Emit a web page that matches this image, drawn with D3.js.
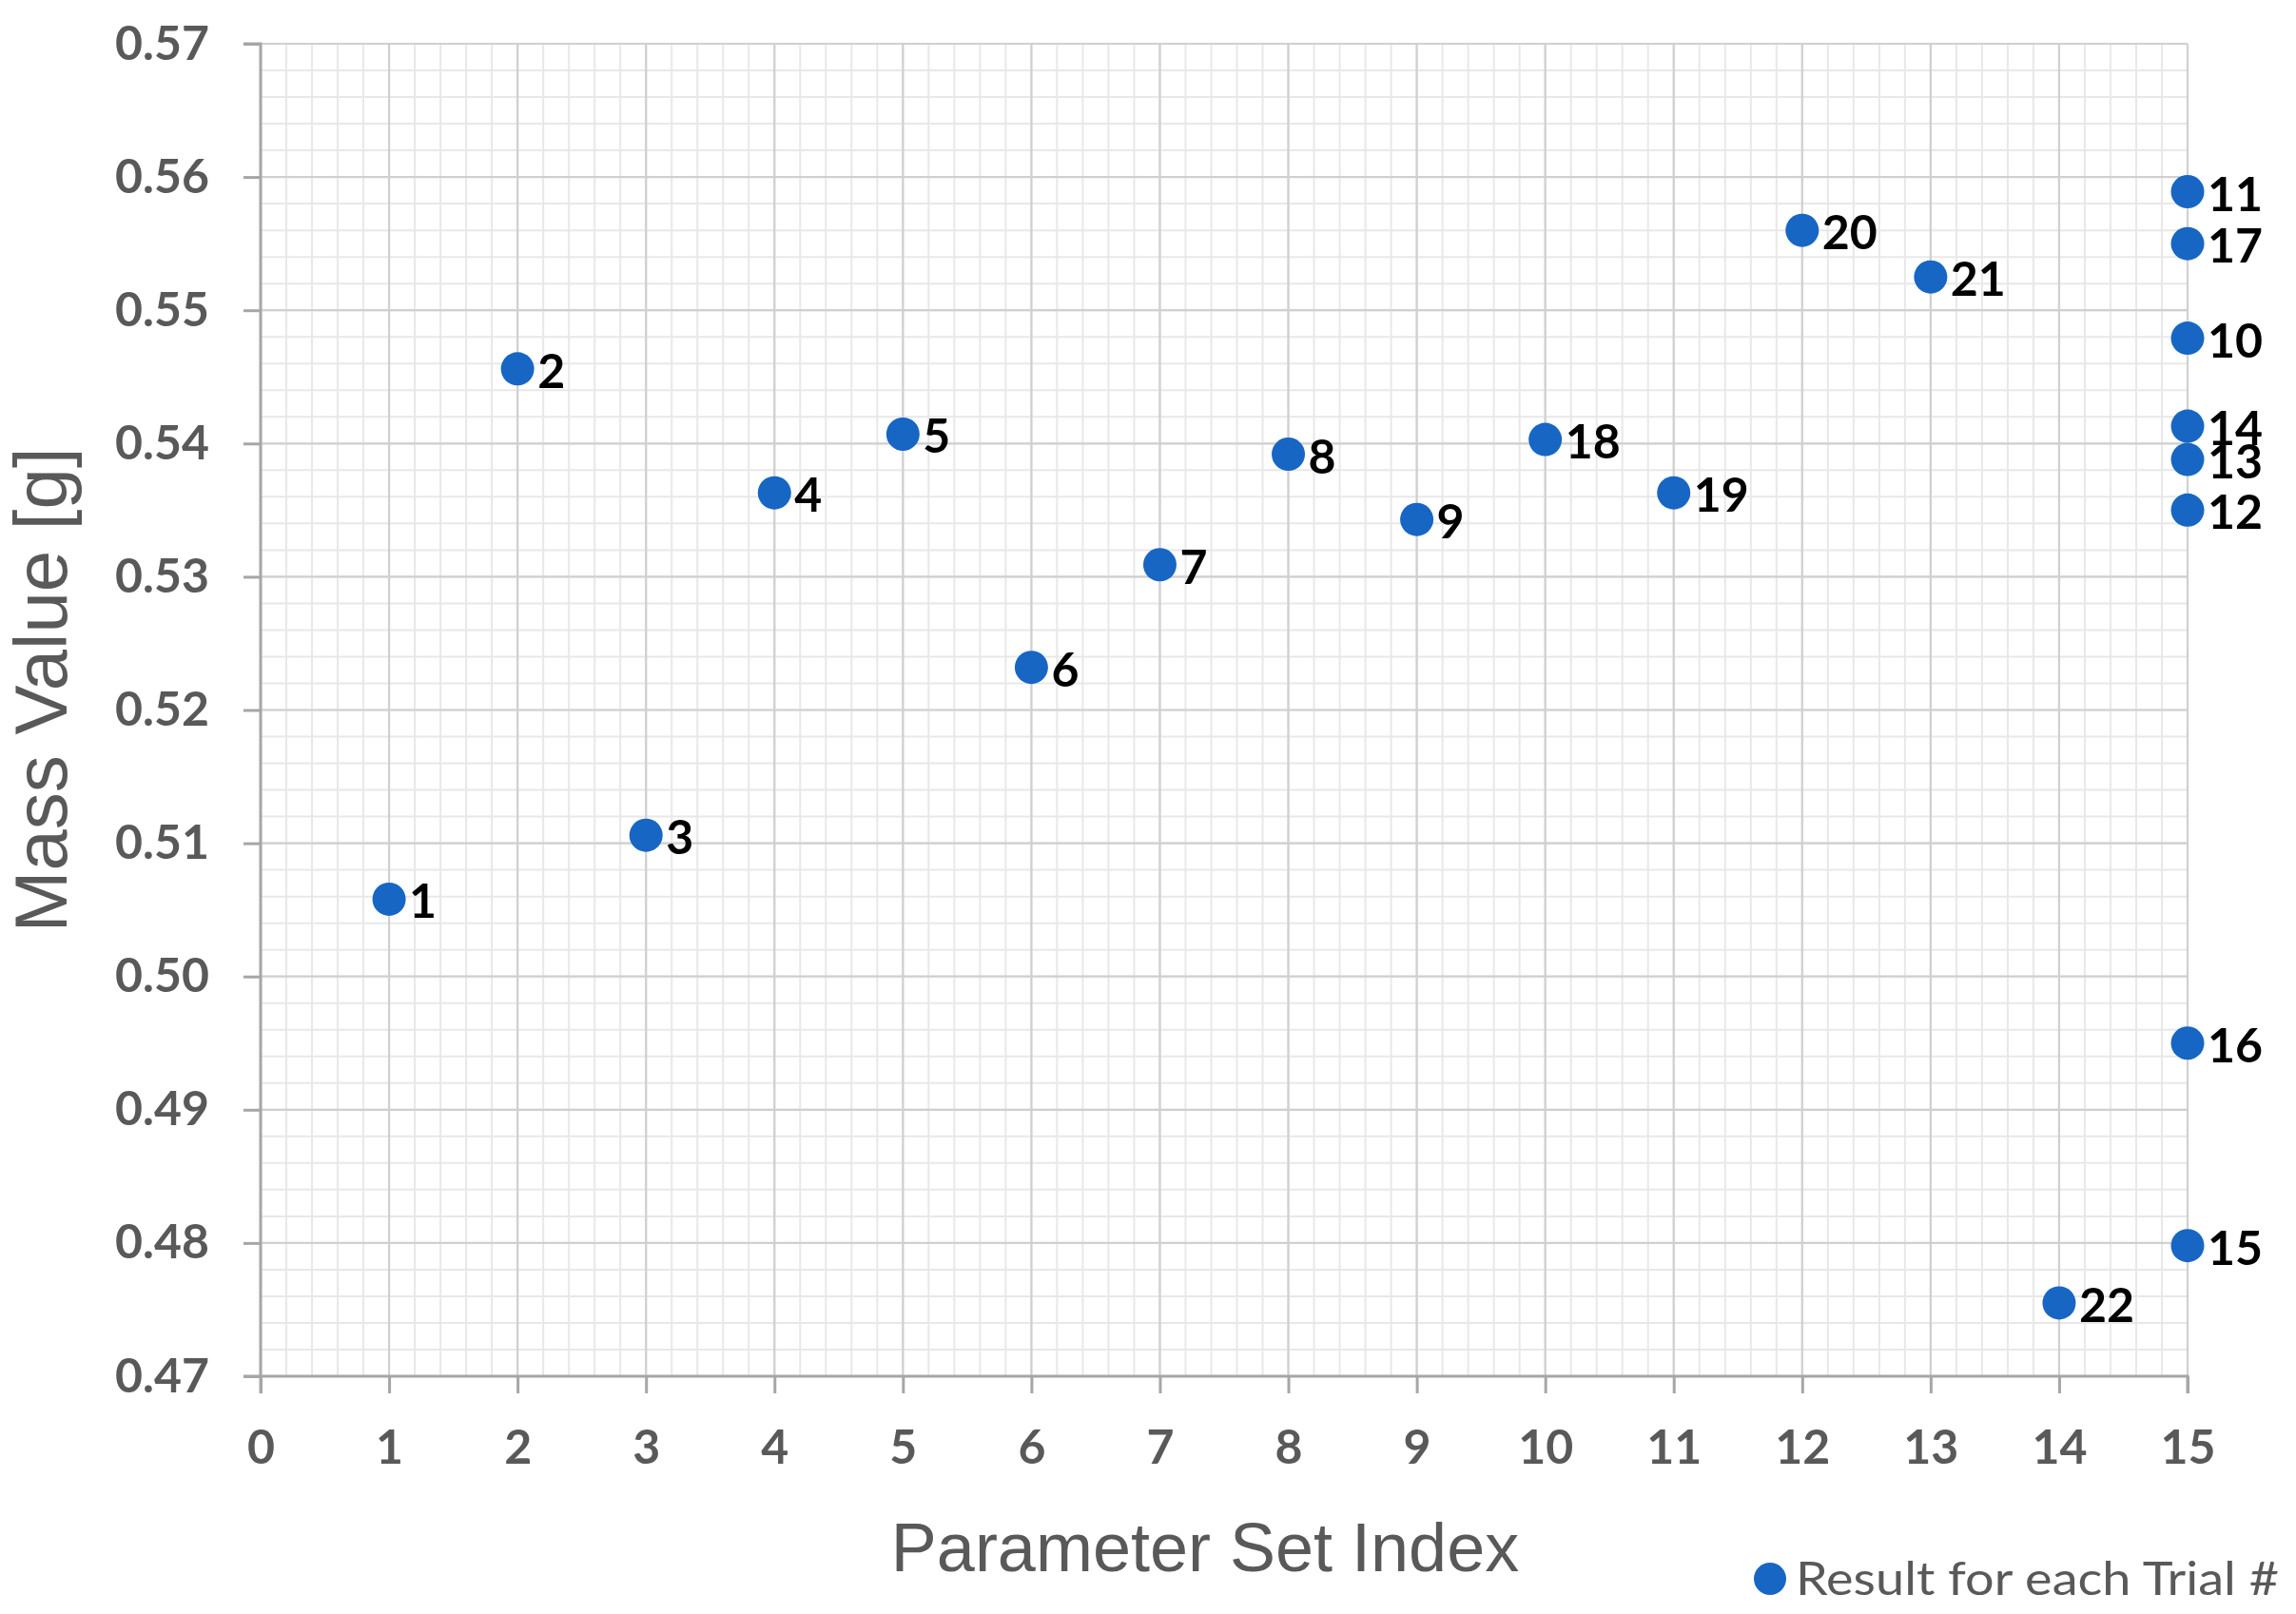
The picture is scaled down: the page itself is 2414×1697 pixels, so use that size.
<!DOCTYPE html>
<html>
<head>
<meta charset="utf-8">
<script src="https://cdn.jsdelivr.net/npm/d3@7"></script>
<style>
  html, body { margin: 0; padding: 0; background: #ffffff; }
  svg { display: block; }
</style>
</head>
<body>
<svg id="chart" width="2414" height="1697"></svg>
<script>
// ---- data ----
const trialNumbers   = [1, 2, 3, 4, 5, 6, 7, 8, 9, 18, 19, 20, 21, 22, 11, 17, 10, 14, 13, 12, 16, 15];
const parameterIndex = [1, 2, 3, 4, 5, 6, 7, 8, 9, 10, 11, 12, 13, 14, 15, 15, 15, 15, 15, 15, 15, 15];
const massValues     = [0.5058, 0.5456, 0.5106, 0.5363, 0.5407, 0.5232, 0.5309, 0.5392, 0.5343, 0.5403, 0.5363,
                        0.5560, 0.5525, 0.4755, 0.5589, 0.5550, 0.5479, 0.5413, 0.5388, 0.5350, 0.4950, 0.4798];
const xTicks = [0, 1, 2, 3, 4, 5, 6, 7, 8, 9, 10, 11, 12, 13, 14, 15];
const yTicks = [0.47, 0.48, 0.49, 0.50, 0.51, 0.52, 0.53, 0.54, 0.55, 0.56, 0.57];
const xTitle = "Parameter Set Index";
const yTitle = "Mass Value [g]";
const legendLabel = "Result for each Trial #";

// ---- layout ----
const svg = d3.select("#chart");
const plot = { left: 274, right: 2300, top: 46, bottom: 1447 };
const x = d3.scaleLinear().domain([0, 15]).range([plot.left, plot.right]);
const y = d3.scaleLinear().domain([0.47, 0.57]).range([plot.bottom, plot.top]);

const pointColor = "#1766c4";
const axisGrey = "#a6a6a6";
const textGrey = "#595959";

svg.append("rect").attr("width", 2414).attr("height", 1697).attr("fill", "#ffffff");

// minor grid
const xMinor = d3.range(0, 15.0001, 0.2);
const yMinor = d3.range(0.47, 0.57001, 0.002);
const grid = svg.append("g");
grid.selectAll("line.xm").data(xMinor).join("line")
  .attr("x1", d => x(d)).attr("x2", d => x(d))
  .attr("y1", plot.top).attr("y2", plot.bottom)
  .attr("stroke", "#e8e8e8").attr("stroke-width", 2);
grid.selectAll("line.ym").data(yMinor).join("line")
  .attr("x1", plot.left).attr("x2", plot.right)
  .attr("y1", d => y(d)).attr("y2", d => y(d))
  .attr("stroke", "#e8e8e8").attr("stroke-width", 2);
// major grid
grid.selectAll("line.xM").data(xTicks).join("line")
  .attr("x1", d => x(d)).attr("x2", d => x(d))
  .attr("y1", plot.top).attr("y2", plot.bottom)
  .attr("stroke", "#d0d0d0").attr("stroke-width", 2.2);
grid.selectAll("line.yM").data(yTicks).join("line")
  .attr("x1", plot.left).attr("x2", plot.right)
  .attr("y1", d => y(d)).attr("y2", d => y(d))
  .attr("stroke", "#d0d0d0").attr("stroke-width", 2.2);

// axes
const yAxis = svg.append("g")
  .attr("transform", `translate(${plot.left},0)`)
  .call(d3.axisLeft(y).tickValues(yTicks).tickFormat(d3.format(".2f")).tickSize(18).tickPadding(36));
const xAxis = svg.append("g")
  .attr("transform", `translate(0,${plot.bottom})`)
  .call(d3.axisBottom(x).tickValues(xTicks).tickFormat(d3.format("d")).tickSize(18).tickPadding(38));

[yAxis, xAxis].forEach(a => {
  a.select(".domain").attr("stroke", axisGrey).attr("stroke-width", 3);
  a.selectAll(".tick line").attr("stroke", axisGrey).attr("stroke-width", 3);
  a.selectAll(".tick text")
    .attr("fill", textGrey)
    .style("font-family", "Lato, 'Open Sans', sans-serif")
    .style("font-weight", "bold")
    .style("font-size", "50px");
});
yAxis.select(".domain").attr("d", `M-18,${plot.top}H0V${plot.bottom}H-18`);
xAxis.select(".domain").attr("d", `M${plot.left},18V0H${plot.right}V18`);

// axis titles
svg.append("text")
  .attr("x", x(7.5) - 20).attr("y", 1652)
  .attr("text-anchor", "middle")
  .attr("fill", textGrey)
  .style("font-family", "'Liberation Sans', Arial, sans-serif")
  .style("font-size", "72px")
  .text(xTitle);
svg.append("text")
  .attr("transform", `translate(70,${y(0.5215)}) rotate(-90)`)
  .attr("text-anchor", "middle")
  .attr("fill", textGrey)
  .style("font-family", "'Liberation Sans', Arial, sans-serif")
  .style("font-size", "78px")
  .text(yTitle);

// points
const pts = svg.append("g");
pts.selectAll("circle").data(massValues).join("circle")
  .attr("cx", (d, i) => x(parameterIndex[i]))
  .attr("cy", d => y(d))
  .attr("r", 17.5)
  .attr("fill", pointColor);
pts.selectAll("text").data(massValues).join("text")
  .attr("x", (d, i) => x(parameterIndex[i]) + 21)
  .attr("y", d => y(d) + 20)
  .attr("fill", "#000000")
  .style("font-family", "Lato, 'Open Sans', sans-serif")
  .style("font-weight", "bold")
  .style("font-size", "50px")
  .text((d, i) => trialNumbers[i]);

// legend
const lg = svg.append("g");
lg.append("circle").attr("cx", 1861).attr("cy", 1660).attr("r", 17).attr("fill", pointColor);
lg.append("text")
  .attr("x", 1888).attr("y", 1677)
  .attr("fill", textGrey)
  .attr("textLength", 508)
  .attr("lengthAdjust", "spacingAndGlyphs")
  .style("font-family", "Lato, 'Open Sans', sans-serif")
  .style("font-size", "49px")
  .text(legendLabel);
</script>
</body>
</html>
